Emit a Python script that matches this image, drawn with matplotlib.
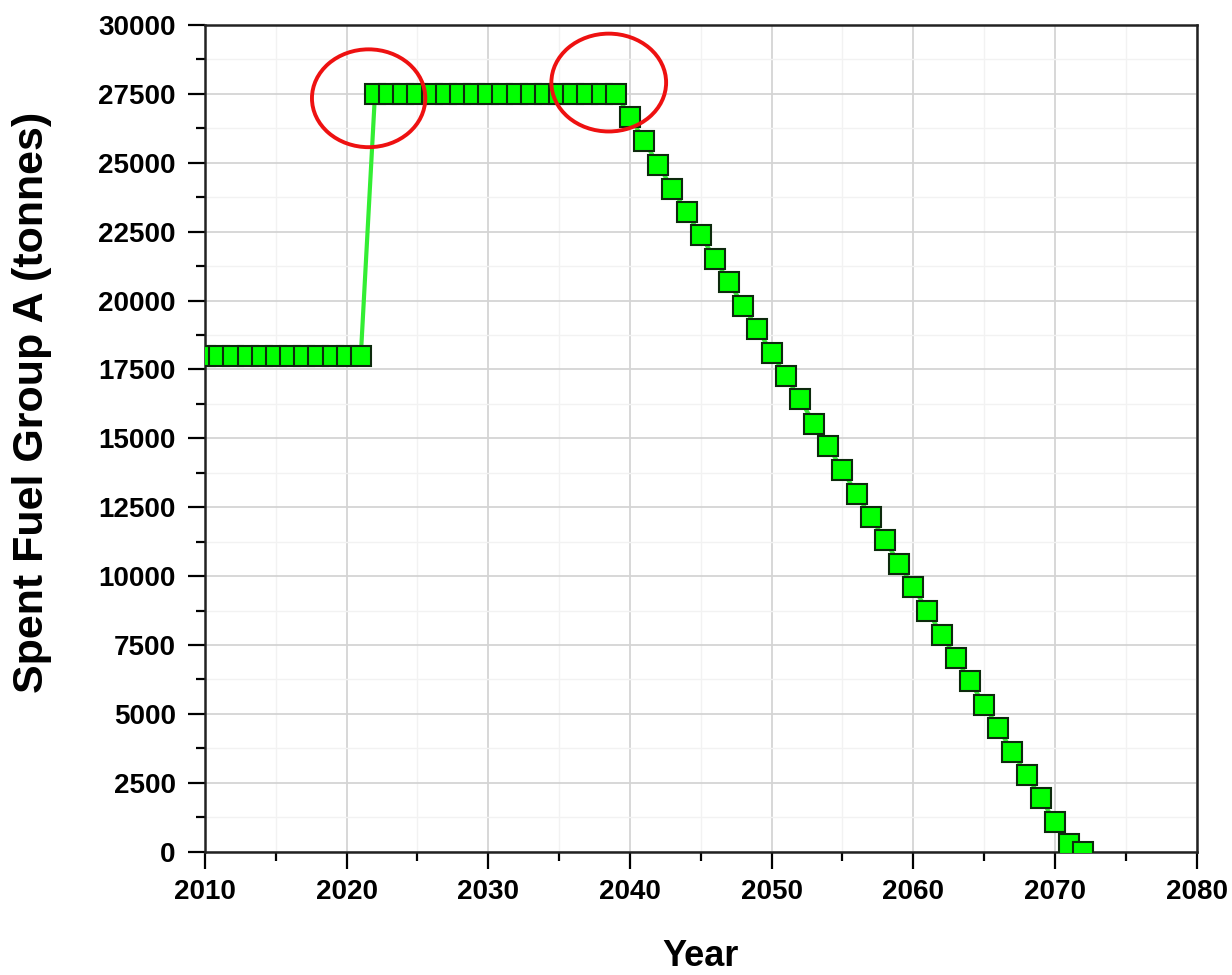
import matplotlib.pyplot as plt
import numpy as np
from matplotlib.patches import Ellipse
from matplotlib.ticker import MultipleLocator

plt.rcParams['font.family'] = ['Liberation Sans', 'DejaVu Sans']
plt.rcParams['font.weight'] = 'bold'

# spent fuel inventory, group A (tonnes)
years_before = list(range(2010, 2022))
fuel_before = [18000] * 12
years_plateau = list(range(2022, 2040))
fuel_plateau = [27500] * 18
years_decline = list(range(2040, 2073))
fuel_decline = [26670, 25800, 24910, 24060, 23200, 22360, 21510, 20660, 19810,
                18960, 18110, 17250, 16420, 15530, 14710, 13840, 12990, 12140,
                11310, 10450, 9590, 8750, 7880, 7040, 6180, 5330, 4480, 3630,
                2790, 1950, 1060, 280, 0]

years = np.array(years_before + years_plateau + years_decline)
fuel = np.array(fuel_before + fuel_plateau + fuel_decline)

# highlighted regions (centre year, centre tonnes, width years, height tonnes)
highlights = [(2021.55, 27340, 8.0, 3550), (2038.5, 27910, 8.1, 3550)]

fig = plt.figure(figsize=(12.32, 9.75), dpi=100)
ax = fig.add_axes([0.1664, 0.1265, 0.8049, 0.8479])

ax.plot(years, fuel, color='#33ee33', lw=3, marker='s', markersize=15,
        markerfacecolor='#00ff00', markeredgecolor='#0d2a0d',
        markeredgewidth=1.5, zorder=3)

for cx, cy, w, h in highlights:
    ax.add_patch(Ellipse((cx, cy), w, h, fill=False, edgecolor='#ee1111',
                         lw=2.8, zorder=4, clip_on=False))

ax.set_xlim(2010, 2080)
ax.set_ylim(0, 30000)
ax.xaxis.set_major_locator(MultipleLocator(10))
ax.xaxis.set_minor_locator(MultipleLocator(5))
ax.yaxis.set_major_locator(MultipleLocator(2500))
ax.yaxis.set_minor_locator(MultipleLocator(1250))

ax.grid(which='major', color='#d4d4d4', lw=1.3, zorder=0)
ax.grid(which='minor', color='#f2f2f2', lw=1.0, zorder=0)
ax.set_axisbelow(True)

ax.tick_params(which='major', direction='out', length=12, width=1.6,
               labelsize=20, top=False, right=False)
ax.tick_params(axis='y', which='major', pad=9)
ax.tick_params(axis='x', which='major', pad=8)
ax.tick_params(which='minor', direction='out', length=6.5, width=1.6,
               top=False, right=False)
for s in ax.spines.values():
    s.set_linewidth(1.8)
    s.set_color('#222222')

ax.set_xlabel('Year', fontsize=26, fontweight='bold', labelpad=24)
ax.set_ylabel('Spent Fuel Group A (tonnes)', fontsize=31, fontweight='bold',
              va='center')
ax.yaxis.set_label_coords(-0.174, 0.543)

plt.savefig('out.png', dpi=100)
plt.close()
